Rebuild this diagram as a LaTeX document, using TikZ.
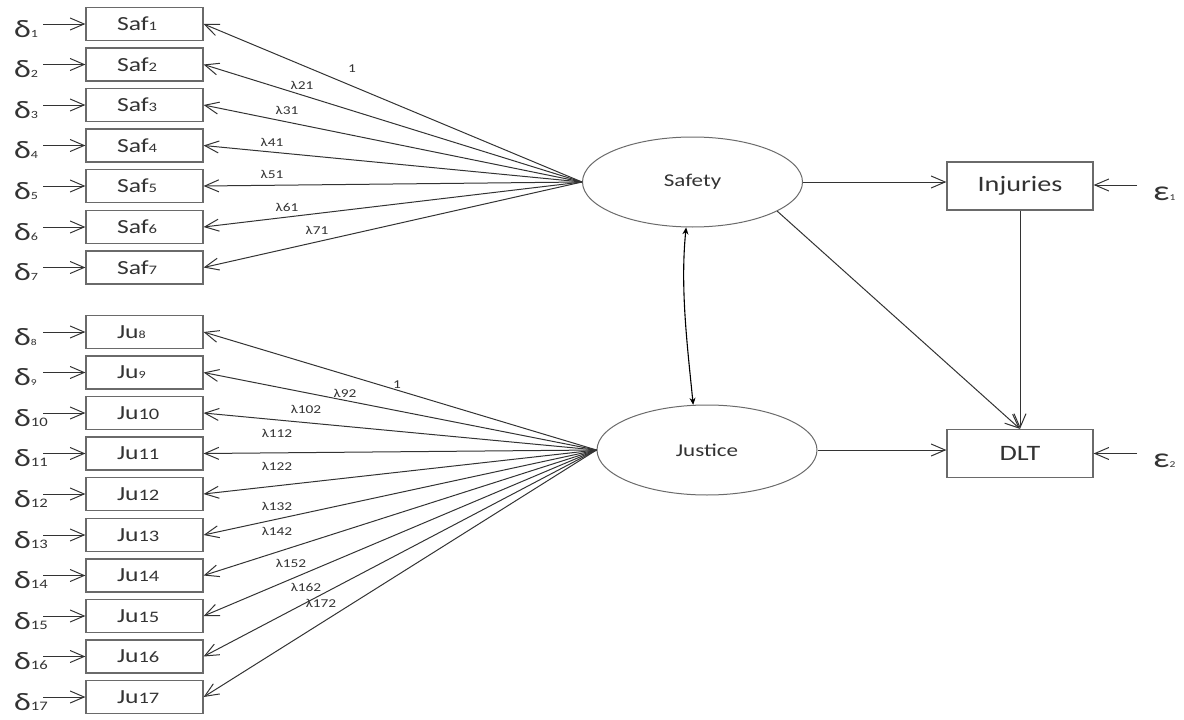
\documentclass[tikz,border=0pt]{standalone}
\usepackage{fontspec}
\setmainfont[FakeStretch=1.28]{Carlito}
\usetikzlibrary{arrows.meta,shapes.geometric}
\definecolor{ink}{HTML}{333333}
\definecolor{frame}{HTML}{6A6A6A}
\begin{document}
\begin{tikzpicture}[x=1pt,y=-1pt,
  obs/.style={draw=frame,line width=1.2pt,minimum width=117pt,minimum height=33pt,
    inner xsep=31pt,inner ysep=0pt,text width=55pt,align=left,text=ink,
    font=\fontsize{20}{20}\selectfont},
  endo/.style={draw=frame,line width=1.2pt,minimum width=146pt,minimum height=48pt,
    inner sep=0pt,text=ink,font=\fontsize{22}{22}\selectfont},
  lat/.style={ellipse,draw=frame,line width=1pt,minimum width=220pt,minimum height=90pt,
    inner sep=0pt,text=ink,font=\fontsize{18}{18}\selectfont},
  arr/.style={draw=ink,line width=1pt,-{Straight Barb[length=14pt,width=12pt,line width=1pt]}},
  dbl/.style={draw=black,line width=1.1pt,{Stealth[length=7pt,width=6pt]}-{Stealth[length=7pt,width=6pt]}},
  lab/.style={text=ink,font=\fontsize{12}{12}\selectfont,inner sep=0pt},
  err/.style={text=ink,font=\fontsize{25}{25}\selectfont,inner sep=0pt,anchor=base west},
]
\useasboundingbox (0,0) rectangle (1184,720);

% latent variables
\node[lat] (safety) at (692.5,182) {Safety};
\node[lat] (justice) at (707,450) {Justice};

% endogenous observed
\node[endo] (inj) at (1020,186) {Injuries};
\node[endo] (dlt) at (1020,453.5) {DLT};

% Safety indicators
\foreach \i/\y in {1/24,2/64.5,3/105,4/145.5,5/186,6/227,7/267.5}{
  \node[obs] (saf\i) at (144.5,\y) {Saf{\fontsize{13}{13}\selectfont\i}};
  \node[err] (d\i) at (14,\y+13) {δ{\fontsize{11}{11}\selectfont\i}};
  \coordinate (ds\i) at (43,\y);
  \draw[arr] (ds\i) -- (saf\i.west);
  \draw[arr] (safety.west) -- (saf\i.east);
}

% Justice indicators
\foreach \i/\y/\s/\t in {8/332/11/9,9/372.5/11/9,10/413/16/13,11/453.5/16/13,12/494/16/13,
  13/535/16/13,14/575.5/16/13,15/616/16/13,16/656.5/16/13,17/697/16/13}{
  \node[obs] (ju\i) at (144.5,\y) {Ju{\fontsize{\s}{\s}\selectfont\i}};
  \node[err] (d\i) at (14,\y+13) {δ{\fontsize{\t}{\t}\selectfont\i}};
  \coordinate (ds\i) at (43,\y);
  \draw[arr] (ds\i) -- (ju\i.west);
  \draw[arr] (justice.west) -- (ju\i.east);
}

% loading labels
\node[lab] (l11) at (352,69) {1};
\node[lab] (l21) at (302,85) {λ21};
\node[lab] (l31) at (287,110) {λ31};
\node[lab] (l41) at (272,142) {λ41};
\node[lab] (l51) at (272,174) {λ51};
\node[lab] (l61) at (287,207) {λ61};
\node[lab] (l71) at (317,230) {λ71};
\node[lab] (l82) at (397,385) {1};
\node[lab] (l92) at (345,393) {λ92};
\node[lab] (l102) at (306,409) {λ102};
\node[lab] (l112) at (277,433) {λ112};
\node[lab] (l122) at (277,466) {λ122};
\node[lab] (l132) at (277,506) {λ132};
\node[lab] (l142) at (277,531) {λ142};
\node[lab] (l152) at (291,563) {λ152};
\node[lab] (l162) at (306,587) {λ162};
\node[lab] (l172) at (321,603) {λ172};

% structural paths
\draw[arr] (safety.east) -- (safety.east -| inj.west);
\draw[arr] (justice.east) -- (justice.east -| dlt.west);
\draw[arr] (inj.south) -- (dlt.north);
\draw[arr] (safety.-19) -- (dlt.north);
\draw[dbl] (safety.262) .. controls +(-6,60) and +(-6,-60) .. (justice.107);

% disturbances
\node[err,font=\fontsize{28}{28}\selectfont] (e1) at (1153,200) {ε{\fontsize{9}{9}\selectfont 1}};
\node[err,font=\fontsize{28}{28}\selectfont] (e2) at (1153,467) {ε{\fontsize{9}{9}\selectfont 2}};
\coordinate (e1s) at (1137,185);
\coordinate (e2s) at (1137,453.5);
\draw[arr] (e1s) -- (inj.east |- e1s);
\draw[arr] (e2s) -- (dlt.east);
\end{tikzpicture}
\end{document}
